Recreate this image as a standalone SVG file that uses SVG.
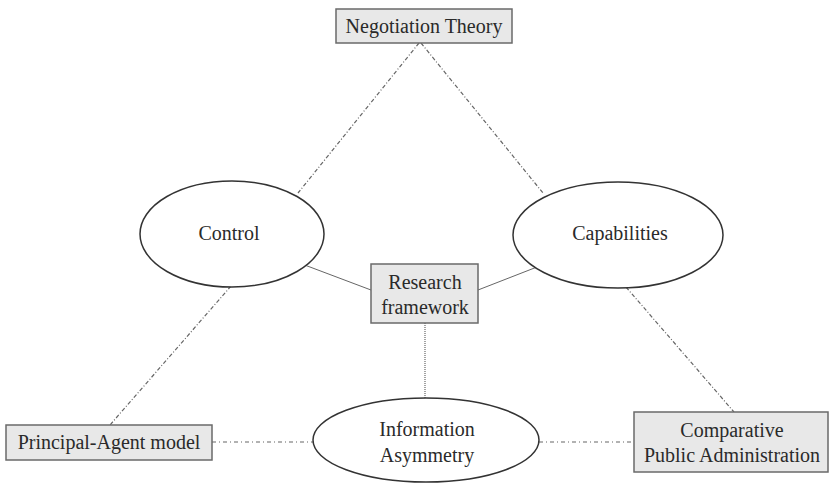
<svg xmlns="http://www.w3.org/2000/svg" width="833" height="485" viewBox="0 0 833 485">
<style>
.box{fill:#e8e8e8;stroke:#6a6a6a;stroke-width:1.5}
.ell{fill:#fff;stroke:#333;stroke-width:1.5}
.t{font-family:"Liberation Serif","Times New Roman",serif;font-size:20px;fill:#2a2a2a;text-anchor:middle}
.dd{fill:none;stroke:#666;stroke-width:1.2;stroke-dasharray:4 2 1 2}
.dh{fill:none;stroke:#666;stroke-width:1.2;stroke-dasharray:4 3 1 3}
.sl{fill:none;stroke:#666;stroke-width:1}
.dt{fill:none;stroke:#666;stroke-width:1.2;stroke-dasharray:1 1}
</style>
<rect width="833" height="485" fill="#fff"/>
<g id="connectors">
<line class="dd" x1="419" y1="43" x2="298" y2="193"/>
<line class="dd" x1="421" y1="43" x2="543" y2="193"/>
<line class="dd" x1="231" y1="286" x2="110" y2="425"/>
<line class="dd" x1="626" y1="287" x2="734" y2="412"/>
<line class="sl" x1="302" y1="264" x2="371" y2="290"/>
<line class="sl" x1="478" y1="290" x2="537" y2="267"/>
<line class="dt" x1="425" y1="323" x2="425" y2="398"/>
<line class="dh" x1="212" y1="442" x2="313" y2="442"/>
<line class="dh" x1="539" y1="442" x2="634" y2="442"/>
</g>
<g id="negotiation-theory">
<rect class="box" x="336" y="9" width="176" height="34"/>
<text class="t" x="424" y="33">Negotiation Theory</text>
</g>
<g id="control">
<ellipse class="ell" cx="232" cy="234" rx="92" ry="53"/>
<text class="t" x="229" y="240">Control</text>
</g>
<g id="capabilities">
<ellipse class="ell" cx="618" cy="235" rx="105" ry="53"/>
<text class="t" x="620" y="240">Capabilities</text>
</g>
<g id="research-framework">
<rect class="box" x="371" y="264" width="107" height="59"/>
<text class="t" x="425" y="289">Research</text>
<text class="t" x="425" y="314">framework</text>
</g>
<g id="principal-agent">
<rect class="box" x="6" y="425" width="206" height="35"/>
<text class="t" x="109" y="449">Principal-Agent model</text>
</g>
<g id="information-asymmetry">
<ellipse class="ell" cx="426" cy="440" rx="113" ry="42"/>
<text class="t" x="427" y="436">Information</text>
<text class="t" x="427" y="462">Asymmetry</text>
</g>
<g id="comparative-public-administration">
<rect class="box" x="634" y="412" width="194" height="60"/>
<text class="t" x="732" y="437">Comparative</text>
<text class="t" x="732" y="462">Public Administration</text>
</g>
</svg>
